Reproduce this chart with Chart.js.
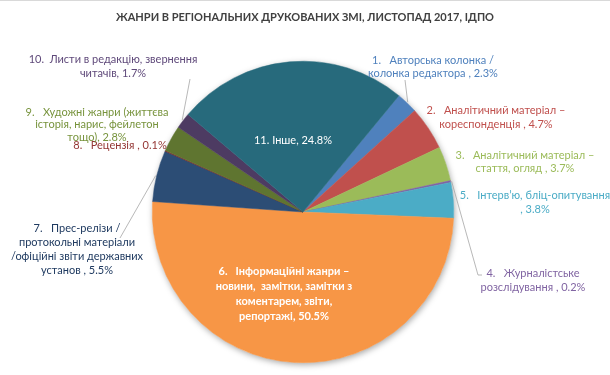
<!DOCTYPE html>
<html><head><meta charset="utf-8">
<script src="https://cdn.jsdelivr.net/npm/chart.js@4"></script>
<style>html,body{margin:0;padding:0;background:#fff}#wrap{width:610px;height:375px;position:relative}</style>
</head><body><div id="wrap"><canvas id="c" width="610" height="375"></canvas></div>
<script>
const chartTitle = 'ЖАНРИ В РЕГІОНАЛЬНИХ ДРУКОВАНИХ ЗМІ, ЛИСТОПАД 2017, ІДПО';
const categories = [
  'Авторська колонка / колонка редактора',
  'Аналітичний матеріал – кореспонденція',
  'Аналітичний матеріал – стаття, огляд',
  'Журналістське розслідування',
  'Інтерв’ю, бліц-опитування',
  'Інформаційні жанри – новини, замітки, замітки з коментарем, звіти, репортажі',
  'Прес-релізи / протокольні матеріали /офіційні звіти державних установ',
  'Рецензія',
  'Художні жанри (життєва історія, нарис, фейлетон тощо)',
  'Листи в редакцію, звернення читачів',
  'Інше'
];
const values = [2.3, 4.7, 3.7, 0.2, 3.8, 50.5, 5.5, 0.1, 2.8, 1.7, 24.8];
const sliceColors = ['#4F81BD','#C0504D','#9BBB59','#8064A2','#4BACC6','#F79646','#2C4D75','#772C2A','#5F7530','#4D3B62','#276A7C'];
const labelColors = ['#4F81BD','#C0504D','#9BBB59','#8064A2','#4BACC6','#FFFFFF','#1F3A60','#943634','#77933C','#5F497A','#FFFFFF'];
const labelLines = [
  ['1.   Авторська колонка /', 'колонка редактора , 2.3%'],
  ['2.   Аналітичний матеріал –', 'кореспонденція , 4.7%'],
  ['3.   Аналітичний матеріал –', 'стаття, огляд , 3.7%'],
  ['4.   Журналістське', 'розслідування , 0.2%'],
  ['5.   Інтерв’ю, бліц-опитування', ', 3.8%'],
  ['6.   Інформаційні жанри –', 'новини,  замітки, замітки з', 'коментарем, звіти,', 'репортажі, 50.5%'],
  ['7.   Прес-релізи /', 'протокольні матеріали', '/офіційні звіти державних', 'установ , 5.5%'],
  ['8.   Рецензія , 0.1%'],
  ['9.   Художні жанри (життєва', 'історія, нарис, фейлетон', 'тощо), 2.8%'],
  ['10.  Листи в редакцію, звернення', 'читачів, 1.7%'],
  ['11. Інше, 24.8%']
];
// layout: label block centre (x, first-line y), line height, leader start (or null)
const labelLayout = [
  {x:433, y:60, lh:13, lead:[405,80]},
  {x:496, y:110, lh:14, lead:null},
  {x:525, y:155, lh:13, lead:null},
  {x:533, y:273, lh:14, lead:[482,275], elbow:[478,275]},
  {x:535, y:195, lh:14, lead:null},
  {x:284, y:271, lh:15, lead:null, bold:true},
  {x:77, y:228, lh:14, lead:[120,238]},
  {x:120, y:145, lh:13, lead:null},
  {x:97, y:112, lh:12.5, lead:null},
  {x:113, y:59, lh:14, lead:[190,79]},
  {x:293, y:140, lh:14, lead:null}
];
const FONT = 'Lato, "Open Sans", sans-serif';

const shadowPlugin = {
  id: 'pieShadow',
  beforeDatasetsDraw(chart) {
    const arc = chart.getDatasetMeta(0).data[0];
    if (!arc) return;
    const ctx = chart.ctx;
    ctx.save();
    ctx.shadowColor = 'rgba(0,0,0,0.35)';
    ctx.shadowBlur = 6;
    ctx.shadowOffsetX = 1;
    ctx.shadowOffsetY = 2;
    ctx.fillStyle = '#ffffff';
    ctx.beginPath();
    ctx.arc(arc.x, arc.y, arc.outerRadius, 0, Math.PI * 2);
    ctx.fill();
    ctx.restore();
  }
};

const labelPlugin = {
  id: 'pieLabels',
  afterDatasetsDraw(chart) {
    const ctx = chart.ctx;
    const meta = chart.getDatasetMeta(0);
    ctx.save();
    // title
    ctx.fillStyle = '#404040';
    ctx.font = 'bold 11px ' + FONT;
    ctx.textAlign = 'center';
    ctx.textBaseline = 'middle';
    ctx.fillText(chartTitle, 305, 17);
    // top border
    ctx.strokeStyle = '#d9d9d9';
    ctx.lineWidth = 1;
    ctx.beginPath(); ctx.moveTo(0, 0.5); ctx.lineTo(610, 0.5); ctx.stroke();

    labelLines.forEach((lines, i) => {
      const L = labelLayout[i];
      const arc = meta.data[i];
      if (L.lead && arc) {
        const mid = (arc.startAngle + arc.endAngle) / 2;
        const ex = arc.x + Math.cos(mid) * (arc.outerRadius + 1);
        const ey = arc.y + Math.sin(mid) * (arc.outerRadius + 1);
        ctx.strokeStyle = '#a6a6a6';
        ctx.lineWidth = 0.8;
        ctx.beginPath();
        ctx.moveTo(L.lead[0], L.lead[1]);
        if (L.elbow) ctx.lineTo(L.elbow[0], L.elbow[1]);
        ctx.lineTo(ex, ey);
        ctx.stroke();
      }
      ctx.fillStyle = labelColors[i];
      ctx.font = (L.bold ? 'bold ' : '') + '11px ' + FONT;
      ctx.textAlign = 'center';
      ctx.textBaseline = 'middle';
      lines.forEach((t, k) => ctx.fillText(t, L.x, L.y + k * L.lh));
    });
    ctx.restore();
  }
};

new Chart(document.getElementById('c'), {
  type: 'pie',
  data: {
    labels: categories,
    datasets: [{
      data: values,
      backgroundColor: sliceColors,
      borderColor: sliceColors,
      borderWidth: 0.5
    }]
  },
  options: {
    responsive: false,
    devicePixelRatio: 1,
    animation: false,
    rotation: 39.5,
    layout: { padding: { top: 61, bottom: 12, left: 152, right: 156 } },
    plugins: { legend: { display: false }, tooltip: { enabled: false }, title: { display: false } }
  },
  plugins: [shadowPlugin, labelPlugin]
});
</script>
</body></html>
